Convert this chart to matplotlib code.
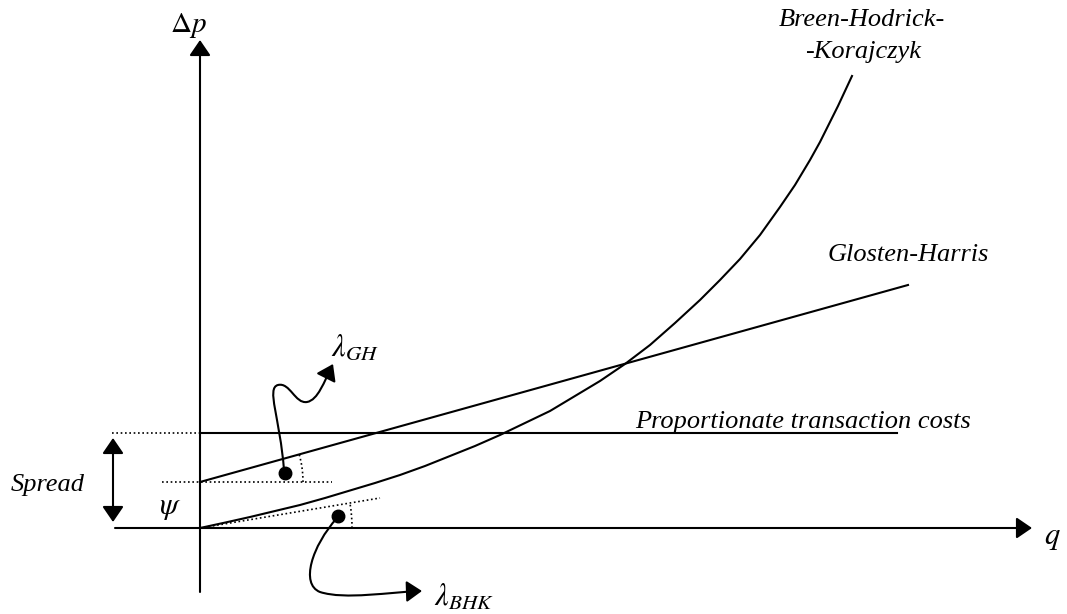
import matplotlib
matplotlib.use("Agg")
import matplotlib.pyplot as plt
from matplotlib.path import Path
from matplotlib.patches import FancyArrowPatch, Arc

plt.rcParams['mathtext.fontset'] = 'stix'
plt.rcParams['font.family'] = ['Liberation Serif', 'DejaVu Serif']

# ---- data (schematic units: q to the right, delta p upward) ----
spread_level = 95          # proportionate transaction costs level
psi_level = 46             # Glosten-Harris intercept
gh_q = [0, 708]
gh_dp = [46, 243]
tc_q = [0, 697]
tc_dp = [95, 95]
bhk_q = [0, 25, 50, 75, 100, 125, 150, 175, 200, 225, 250, 275, 300, 325, 350, 375, 400,
         425, 450, 475, 500, 520, 540, 560, 580, 595, 610, 620, 630, 638, 645, 652]
bhk_dp = [0, 5.4, 11, 17, 23, 30, 37.5, 45, 53, 62, 72, 82, 93, 105, 117, 132, 147,
          164, 183, 205, 228, 248, 269, 293, 321, 343, 368, 386, 406, 422, 437, 452]
bhk_tangent_q = [0, 180]
bhk_tangent_dp = [0, 30]

labels = {
    'tc': 'Proportionate transaction costs',
    'gh': 'Glosten-Harris',
    'bhk1': 'Breen-Hodrick-',
    'bhk2': '-Korajczyk',
    'spread': 'Spread',
}

fig = plt.figure(figsize=(10.67, 6.14), dpi=100)
ax = fig.add_axes([0, 0, 1, 1])
ax.set_xlim(-200, 867)
ax.set_ylim(-86, 528)
ax.axis('off')

LW = 1.5
dot_ls = (0, (1, 1.6))
HEAD = '-|>,head_length=0.95,head_width=0.65'
HEAD2 = '<|-|>,head_length=0.95,head_width=0.65'
MS = 10

# axes with arrows
ax.add_patch(FancyArrowPatch((-85, 0), (832, 0), arrowstyle=HEAD,
                             mutation_scale=MS, lw=LW, color='black', shrinkA=0, shrinkB=0))
ax.add_patch(FancyArrowPatch((0, -64), (0, 488), arrowstyle=HEAD,
                             mutation_scale=MS, lw=LW, color='black', shrinkA=0, shrinkB=0))

# lines
ax.plot(tc_q, tc_dp, color='black', lw=LW)
ax.plot([-88, 0], [spread_level, spread_level], color='black', lw=1.2, ls=dot_ls)
ax.plot(gh_q, gh_dp, color='black', lw=LW)
ax.plot([-38, 132], [psi_level, psi_level], color='black', lw=1.2, ls=dot_ls)
ax.plot(bhk_q, bhk_dp, color='black', lw=LW, solid_joinstyle='round')
ax.plot(bhk_tangent_q, bhk_tangent_dp, color='black', lw=1.2, ls=dot_ls)

# angle arcs
ax.add_patch(Arc((0, psi_level), 206, 206, theta1=0, theta2=15.5, color='black', lw=1.2, ls=dot_ls))
ax.add_patch(Arc((0, 0), 304, 304, theta1=0, theta2=9.5, color='black', lw=1.2, ls=dot_ls))

# dots
ax.plot([85], [55], 'o', color='black', ms=9)
ax.plot([138], [12], 'o', color='black', ms=9)

# squiggly arrows
gh_path = Path([(84, 58), (80, 110), (66, 140), (78, 143),
                (90, 146), (95, 124), (107, 126),
                (118, 128), (124, 146), (133, 164)],
               [Path.MOVETO, Path.CURVE4, Path.CURVE4, Path.CURVE4,
                Path.CURVE4, Path.CURVE4, Path.CURVE4,
                Path.CURVE4, Path.CURVE4, Path.CURVE4])
ax.add_patch(FancyArrowPatch(path=gh_path, arrowstyle=HEAD,
                             mutation_scale=MS, lw=LW, color='black'))
bhk_path = Path([(137, 10), (112, -18), (100, -56), (120, -64),
                 (145, -72), (190, -64), (222, -63)],
                [Path.MOVETO, Path.CURVE4, Path.CURVE4, Path.CURVE4,
                 Path.CURVE4, Path.CURVE4, Path.CURVE4])
ax.add_patch(FancyArrowPatch(path=bhk_path, arrowstyle=HEAD,
                             mutation_scale=MS, lw=LW, color='black'))

# spread double arrow
ax.add_patch(FancyArrowPatch((-87, 6), (-87, 90), arrowstyle=HEAD2,
                             mutation_scale=MS, lw=LW, color='black', shrinkA=0, shrinkB=0))

# texts
FS = 19
ax.text(-12, 503, r'$\Delta p$', fontsize=21, ha='center', va='center')
ax.text(852, -9, r'$q$', fontsize=22, ha='center', va='center')
ax.text(-30, 20, r'$\psi$', fontsize=22, ha='center', va='center')
ax.text(131, 180, r'$\lambda_{GH}$', fontsize=22, ha='left', va='center')
ax.text(234, -70, r'$\lambda_{BHK}$', fontsize=22, ha='left', va='center')
ax.text(-152, 43, labels['spread'], fontsize=FS, style='italic', ha='center', va='center')
ax.text(435, 100, labels['tc'], fontsize=FS, style='italic', ha='left', va='baseline')
ax.text(708, 273, labels['gh'], fontsize=FS, style='italic', ha='center', va='center')
ax.text(662, 508, labels['bhk1'], fontsize=FS, style='italic', ha='center', va='center')
ax.text(663, 476, labels['bhk2'], fontsize=FS, style='italic', ha='center', va='center')

fig.savefig('out.png', dpi=100)
